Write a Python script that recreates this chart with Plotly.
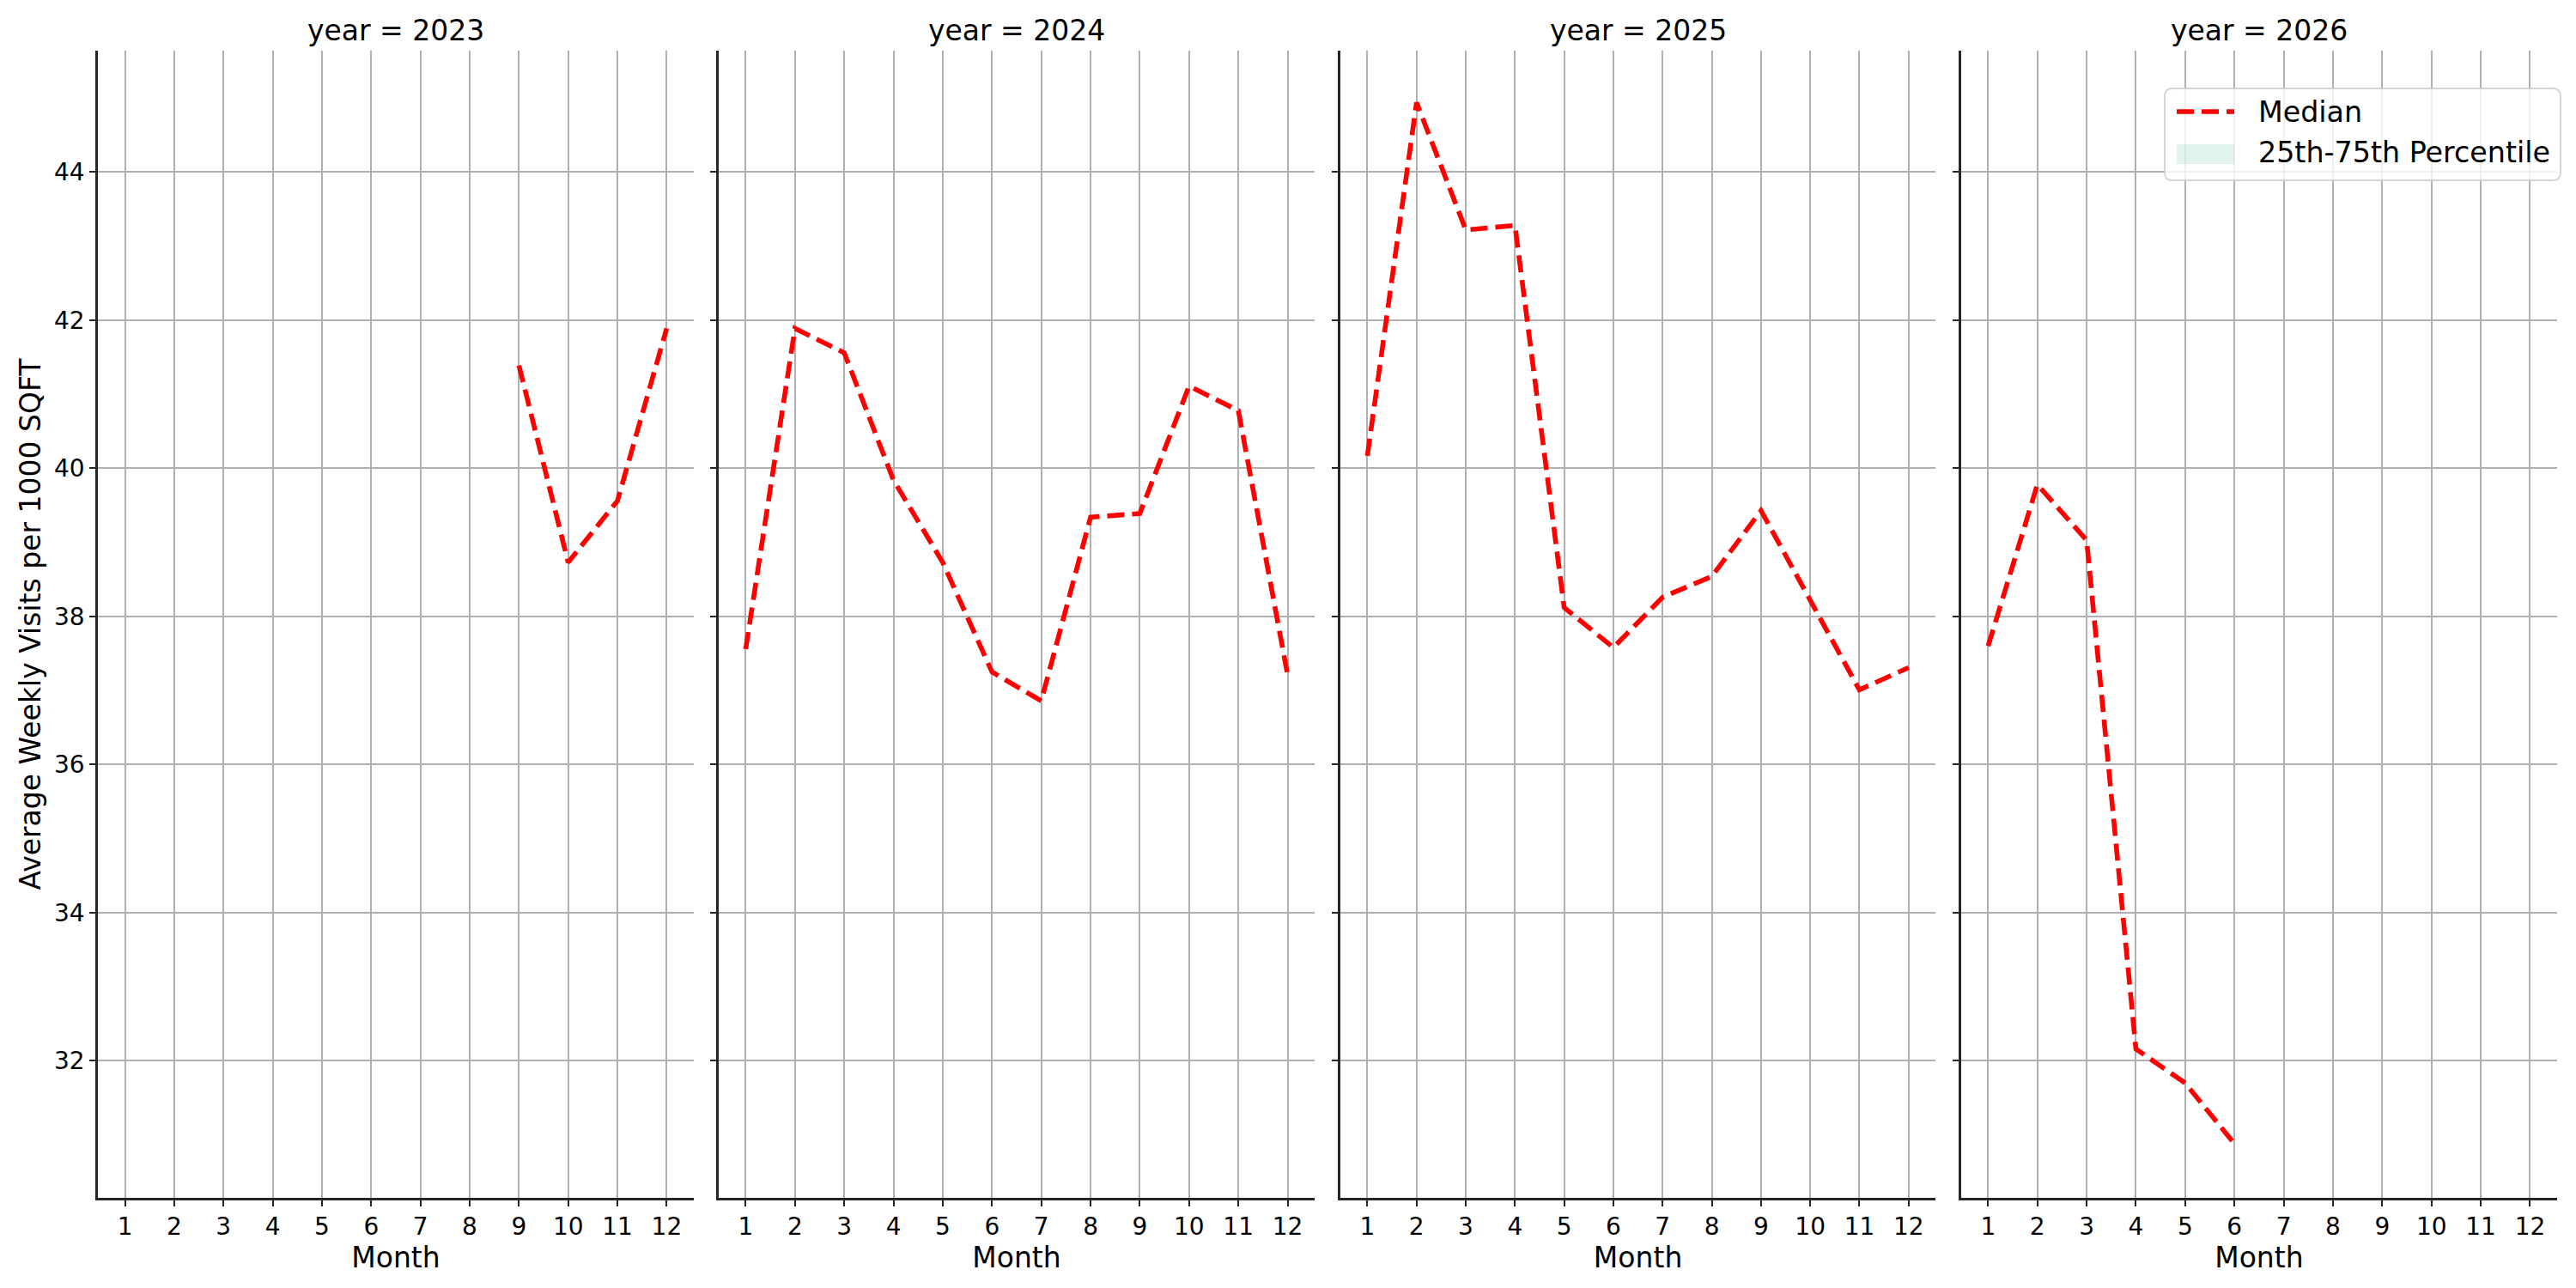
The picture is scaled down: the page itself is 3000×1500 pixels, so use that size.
import plotly.graph_objects as go

# ---------------- data ----------------
years = [2023, 2024, 2025, 2026]

months_2023 = [9, 10, 11, 12]
median_2023 = [41.39, 38.73, 39.56, 41.89]

months_2024 = [1, 2, 3, 4, 5, 6, 7, 8, 9, 10, 11, 12]
median_2024 = [37.56, 41.89, 41.56, 39.84, 38.73, 37.25, 36.86, 39.34, 39.39, 41.11, 40.78, 37.21]

months_2025 = [1, 2, 3, 4, 5, 6, 7, 8, 9, 10, 11, 12]
median_2025 = [40.17, 44.94, 43.22, 43.28, 38.12, 37.58, 38.26, 38.54, 39.43, 38.21, 37.01, 37.31]

months_2026 = [1, 2, 3, 4, 5, 6]
median_2026 = [37.60, 39.78, 39.03, 32.16, 31.70, 30.88]

month_ticks = [1, 2, 3, 4, 5, 6, 7, 8, 9, 10, 11, 12]
y_ticks = [32, 34, 36, 38, 40, 42, 44]

legend_labels = ["Median", "25th-75th Percentile"]

series = [
    (months_2023, median_2023),
    (months_2024, median_2024),
    (months_2025, median_2025),
    (months_2026, median_2026),
]

# ---------------- layout helpers ----------------
W, H = 3000, 1500
ML, MR, MT, MB = 114, 22, 59, 105
PW, PH = W - ML - MR, H - MT - MB
FONT = "DejaVu Sans"
SPINE = "#262626"
GRID = "#b0b0b0"
LINE_COLOR = "red"
BAND_COLOR = "rgba(102,194,165,0.2)"
DASH = "20px,9px"


def px(xp):
    return (xp - ML) / PW


def py(yp):
    return 1 - (yp - MT) / PH


domains = [[0.0, 0.2423], [0.2524, 0.4948], [0.5052, 0.7473], [0.7576, 1.0]]

fig = go.Figure()

for i, (mx, my) in enumerate(series):
    sfx = "" if i == 0 else str(i + 1)
    fig.add_trace(go.Scatter(
        x=mx, y=my, mode="lines",
        line=dict(color=LINE_COLOR, width=5.6, dash=DASH),
        name=legend_labels[0], showlegend=False,
        xaxis="x" + sfx, yaxis="y" + sfx,
    ))

layout = dict(
    width=W, height=H,
    margin=dict(l=ML, r=MR, t=MT, b=MB),
    paper_bgcolor="white", plot_bgcolor="white",
    font=dict(family=FONT, color="black", size=28),
    showlegend=False,
    annotations=[],
    shapes=[],
)

for i, yr in enumerate(years):
    sfx = "" if i == 0 else str(i + 1)
    layout["xaxis" + sfx] = dict(
        domain=domains[i], anchor="y" + sfx, range=[0.45, 12.55],
        tickmode="array", tickvals=month_ticks, ticktext=[str(m) for m in month_ticks],
        showgrid=True, gridcolor=GRID, gridwidth=2,
        showline=True, linecolor=SPINE, linewidth=2.5, mirror=False,
        ticks="outside", ticklen=7, tickwidth=2, tickcolor=SPINE,
        zeroline=False, tickfont=dict(size=28, family=FONT, color="black"),
        title=dict(text="Month", font=dict(size=33, family=FONT, color="black"), standoff=4),
    )
    layout["yaxis" + sfx] = dict(
        domain=[0, 1], anchor="x" + sfx, range=[30.15, 45.64],
        tickmode="array", tickvals=y_ticks,
        showticklabels=(i == 0),
        showgrid=True, gridcolor=GRID, gridwidth=2,
        showline=True, linecolor=SPINE, linewidth=2.5, mirror=False,
        ticks="outside", ticklen=7, tickwidth=2, tickcolor=SPINE,
        zeroline=False, tickfont=dict(size=28, family=FONT, color="black"),
    )
    if i > 0:
        layout["yaxis" + sfx]["matches"] = "y"
    layout["annotations"].append(dict(
        text=f"year = {yr}", x=(domains[i][0] + domains[i][1]) / 2, y=1.0,
        xref="paper", yref="paper", xanchor="center", yanchor="bottom",
        showarrow=False, yshift=2, font=dict(size=33, family=FONT, color="black"),
    ))

layout["yaxis"]["title"] = dict(
    text="Average Weekly Visits per 1000 SQFT",
    font=dict(size=33, family=FONT, color="black"), standoff=6,
)

# ---------------- legend (drawn in the last panel, upper right) ----------------
bx0, bx1, by0, by1, r = 2521, 2982, 103, 210, 9
rx, ry = r / PW, r / PH
X0, X1, Y0, Y1 = px(bx0), px(bx1), py(by1), py(by0)
path = (
    f"M{X0 + rx},{Y1} L{X1 - rx},{Y1} Q{X1},{Y1} {X1},{Y1 - ry} "
    f"L{X1},{Y0 + ry} Q{X1},{Y0} {X1 - rx},{Y0} "
    f"L{X0 + rx},{Y0} Q{X0},{Y0} {X0},{Y0 + ry} "
    f"L{X0},{Y1 - ry} Q{X0},{Y1} {X0 + rx},{Y1} Z"
)
layout["shapes"].append(dict(
    type="path", path=path, xref="paper", yref="paper", layer="above",
    fillcolor="rgba(255,255,255,0.8)", line=dict(color="rgba(204,204,204,0.85)", width=2),
))
layout["shapes"].append(dict(
    type="line", xref="paper", yref="paper", layer="above",
    x0=px(2535), x1=px(2602), y0=py(130), y1=py(130),
    line=dict(color=LINE_COLOR, width=5.6, dash=DASH),
))
layout["shapes"].append(dict(
    type="rect", xref="paper", yref="paper", layer="above",
    x0=px(2535), x1=px(2602), y0=py(191), y1=py(168),
    fillcolor=BAND_COLOR, line=dict(width=0),
))
for lbl, yc in zip(legend_labels, [130, 178]):
    layout["annotations"].append(dict(
        text=lbl, x=px(2628), y=py(yc), xref="paper", yref="paper",
        xanchor="left", yanchor="middle", showarrow=False,
        font=dict(size=33.3, family=FONT, color="black"),
    ))

fig.update_layout(**layout)
fig.write_html("out.html")
